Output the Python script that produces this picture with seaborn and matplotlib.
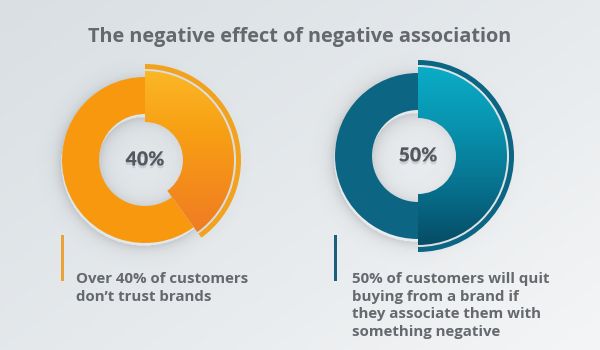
import numpy as np
import matplotlib
matplotlib.use("Agg")
import matplotlib.pyplot as plt
import matplotlib.patheffects as pe
import seaborn as sns

# ---- data -------------------------------------------------------------
title = "The negative effect of negative association"
shares = [40, 50]                       # percent of customers
share_labels = ["40%", "50%"]
captions = [
    ["Over 40% of customers", "don\u2019t trust brands"],
    ["50% of customers will quit", "buying from a brand if",
     "they associate them with", "something negative"],
]

# ---- styling ----------------------------------------------------------
sns.set_theme(style="white")
plt.rcParams["font.family"] = ["Open Sans", "DejaVu Sans"]

W, H = 600, 350
base_colors = ["#f7980f", "#0b6583"]
accent_colors = ["#eba23a", "#1a5f7c"]
arc_colors = ["#f3a21e", "#0a6683"]
highlight_cmaps = [
    sns.blend_palette(["#fbb726", "#f8a014", "#f38a1c", "#ee7626"], as_cmap=True),
    sns.blend_palette(["#0bacc7", "#0893ae", "#07728f", "#064c66"], as_cmap=True),
]
text_gray = "#65696e"
centers = [(145, 160), (418, 156)]
caption_x = [(62, 76), (335, 352)]

fig = plt.figure(figsize=(W / 100, H / 100), dpi=100)

# soft grey backdrop, slightly lighter toward the upper right
bg = fig.add_axes([0, 0, 1, 1])
yy, xx = np.mgrid[0:1:200j, 0:1:300j]
shade = 0.55 * xx + 0.45 * (1 - yy)
bg_cmap = sns.blend_palette(["#d9dfe3", "#e5e9ec", "#f4f5f6"], as_cmap=True)
bg.imshow(shade, cmap=bg_cmap, aspect="auto", extent=[0, 1, 0, 1], origin="lower")
bg.set_axis_off()


def px_text(x, y, s, **kw):
    fig.text(x / W, 1 - y / H, s, **kw)


px_text(300, 42, title, ha="center", va="baseline", fontsize=14.3,
        fontweight="bold", color=text_gray)

R_OUT, R_IN = 83, 46          # base ring
H_OUT, H_IN = 89, 38          # highlighted slice
A_OUT, A_W = 96, 5            # thin outer arc
HALF = 110

for i, (cx, cy) in enumerate(centers):
    ax = fig.add_axes([(cx - HALF) / W, (H - cy - HALF) / H, 2 * HALF / W, 2 * HALF / H])
    ax.patch.set_alpha(0)
    share = shares[i]
    vals = [share, 100 - share]

    # faint shadow under the ring
    ys, xs = np.mgrid[-HALF:HALF:300j, -HALF:HALF:300j]
    rr = np.hypot(xs + 1, ys + 3)
    sh = np.where(rr > R_OUT, np.exp(-(rr - R_OUT) / 6.0), 0.0)
    sh += np.where(rr < R_IN, np.exp(-(R_IN - rr) / 7.0), 0.0)
    rgba = np.zeros(rr.shape + (4,))
    rgba[..., :3] = 0.35
    rgba[..., 3] = 0.22 * sh
    ax.imshow(rgba, extent=[-HALF, HALF, -HALF, HALF], origin="lower", zorder=0)

    # base ring: the remaining share
    ax.pie(vals, radius=R_OUT, startangle=90, counterclock=False,
           colors=["none", base_colors[i]],
           wedgeprops=dict(width=R_OUT - R_IN, linewidth=0))

    # highlighted share, filled with a vertical gradient
    hw, _ = ax.pie(vals, radius=H_OUT, startangle=90, counterclock=False,
                   colors=["none", "none"],
                   wedgeprops=dict(width=H_OUT - H_IN, linewidth=0))
    grad = np.linspace(0, 1, 256)[:, None] * np.ones((1, 8))
    im = ax.imshow(grad, cmap=highlight_cmaps[i], aspect="auto", origin="upper",
                   extent=[-H_OUT, H_OUT, -H_OUT, H_OUT], zorder=3)
    im.set_clip_path(hw[0])

    # thin arc outside the highlighted share
    ax.pie(vals, radius=A_OUT, startangle=90, counterclock=False,
           colors=[arc_colors[i], "none"],
           wedgeprops=dict(width=A_W, linewidth=0))
    for p in ax.patches:
        p.set_zorder(4 if p.r == A_OUT else 2)

    ax.text(0, 0, share_labels[i], ha="center", va="center", fontsize=14,
            fontweight="heavy", color="#54585e", family=["Lato", "DejaVu Sans"],
            zorder=6,
            path_effects=[pe.SimplePatchShadow(offset=(0, -2), shadow_rgbFace="#9aa0a6",
                                               alpha=0.35), pe.Normal()])
    ax.set_xlim(-HALF, HALF)
    ax.set_ylim(-HALF, HALF)
    ax.set_axis_off()

    # accent bar and caption
    bx, tx = caption_x[i]
    bar = fig.add_axes([(bx - 1.5) / W, (H - 281) / H, 3 / W, 46 / H])
    bar.set_facecolor(accent_colors[i])
    bar.set_xticks([])
    bar.set_yticks([])
    for s in bar.spines.values():
        s.set_visible(False)
    for k, line in enumerate(captions[i]):
        px_text(tx, 283 + k * 17.7, line, ha="left", va="baseline", fontsize=10.8,
                fontweight="bold", color=text_gray)

fig.savefig("out.png", dpi=100)
